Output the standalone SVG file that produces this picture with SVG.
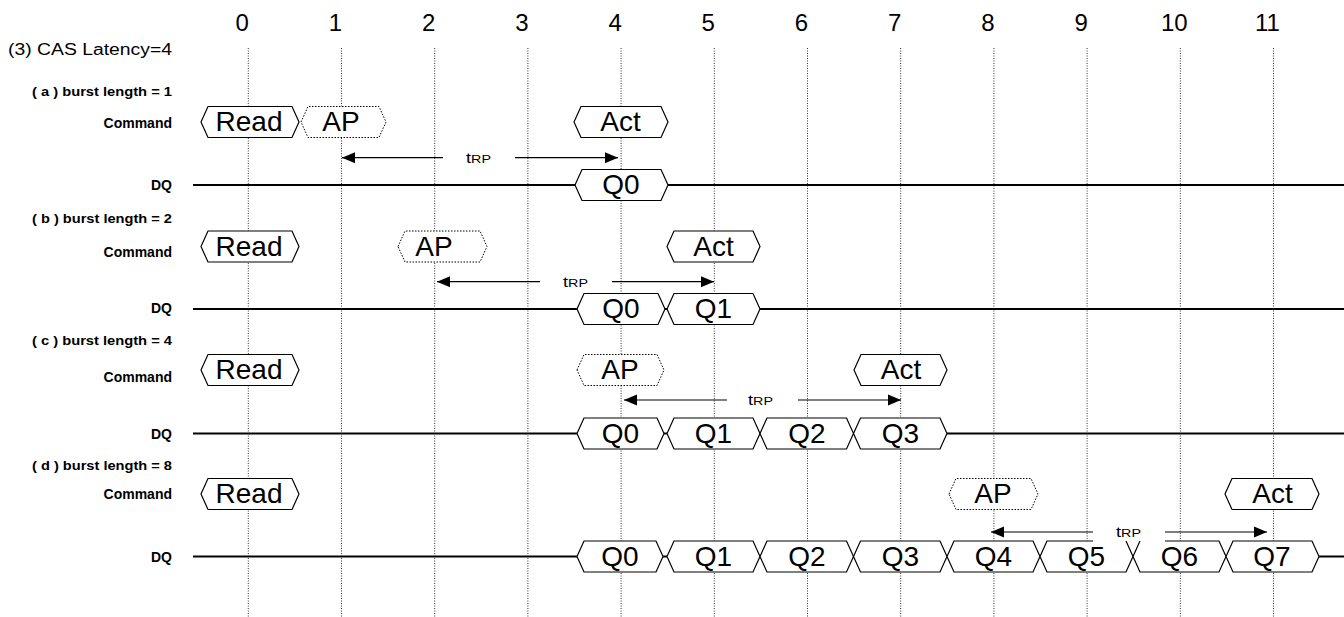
<svg xmlns="http://www.w3.org/2000/svg" width="1344" height="617" viewBox="0 0 1344 617">
<style>
text{font-family:"Liberation Sans",Arial,sans-serif;fill:#000}
.num{font-size:24px;text-anchor:middle}
.sec{font-size:12px;font-weight:bold}
.lbl{font-size:14px;font-weight:bold;text-anchor:end}
.ht{font-size:28px;text-anchor:middle}
.grid{stroke:#333;stroke-width:1;stroke-dasharray:1 1.5;fill:none}
.dq{stroke:#000;stroke-width:1.8;fill:none}
.hex{fill:#fff;stroke:#000;stroke-width:1.2}
.hexd{fill:#fff;stroke:#000;stroke-width:1;stroke-dasharray:1.5 1.5}
.arr{stroke:#000;stroke-width:1.2;fill:none;marker-end:url(#ah)}
.t1{font-size:14px}
.t2{font-size:11px}
</style>
<defs>
<marker id="ah" markerUnits="userSpaceOnUse" markerWidth="14" markerHeight="12" refX="13" refY="6" orient="auto">
<path d="M0,0.5 L13,6 L0,11.5 Z" fill="#000"/>
</marker>
</defs>
<rect width="1344" height="617" fill="#fff"/>

<g id="grid">
<line class="grid" x1="248.3" y1="48" x2="248.3" y2="617"/>
<line class="grid" x1="341.5" y1="48" x2="341.5" y2="617"/>
<line class="grid" x1="434.7" y1="48" x2="434.7" y2="617"/>
<line class="grid" x1="527.9" y1="48" x2="527.9" y2="617"/>
<line class="grid" x1="621.1" y1="48" x2="621.1" y2="617"/>
<line class="grid" x1="714.3" y1="48" x2="714.3" y2="617"/>
<line class="grid" x1="807.5" y1="48" x2="807.5" y2="617"/>
<line class="grid" x1="900.7" y1="48" x2="900.7" y2="617"/>
<line class="grid" x1="993.9" y1="48" x2="993.9" y2="617"/>
<line class="grid" x1="1087.1" y1="48" x2="1087.1" y2="617"/>
<line class="grid" x1="1180.3" y1="48" x2="1180.3" y2="617"/>
<line class="grid" x1="1273.5" y1="48" x2="1273.5" y2="617"/>
</g>

<g id="clock-numbers">
<text class="num" x="242.3" y="30.5">0</text>
<text class="num" x="335.5" y="30.5">1</text>
<text class="num" x="428.7" y="30.5">2</text>
<text class="num" x="521.9" y="30.5">3</text>
<text class="num" x="615.1" y="30.5">4</text>
<text class="num" x="708.3" y="30.5">5</text>
<text class="num" x="801.5" y="30.5">6</text>
<text class="num" x="894.7" y="30.5">7</text>
<text class="num" x="987.9" y="30.5">8</text>
<text class="num" x="1081.1" y="30.5">9</text>
<text class="num" x="1174.3" y="30.5">10</text>
<text class="num" x="1267.5" y="30.5">11</text>
</g>

<g id="labels">
<text x="8" y="55" style="font-size:16px" textLength="164" lengthAdjust="spacingAndGlyphs">(3) CAS Latency=4</text>
<text class="sec" x="32" y="95.5" textLength="140" lengthAdjust="spacingAndGlyphs">( a ) burst length = 1</text>
<text class="lbl" x="172" y="127.5">Command</text>
<text class="lbl" x="172" y="190">DQ</text>
<text class="sec" x="32" y="223" textLength="140" lengthAdjust="spacingAndGlyphs">( b ) burst length = 2</text>
<text class="lbl" x="172" y="257">Command</text>
<text class="lbl" x="172" y="313">DQ</text>
<text class="sec" x="32" y="345" textLength="140" lengthAdjust="spacingAndGlyphs">( c ) burst length = 4</text>
<text class="lbl" x="172" y="381.5">Command</text>
<text class="lbl" x="172" y="438.5">DQ</text>
<text class="sec" x="32" y="470" textLength="140" lengthAdjust="spacingAndGlyphs">( d ) burst length = 8</text>
<text class="lbl" x="172" y="498.5">Command</text>
<text class="lbl" x="172" y="562">DQ</text>
</g>

<g id="dq-lines">
<line class="dq" x1="193" y1="185" x2="1344" y2="185"/>
<line class="dq" x1="193" y1="309" x2="1344" y2="309"/>
<line class="dq" x1="193" y1="433.5" x2="1344" y2="433.5"/>
<line class="dq" x1="193" y1="556.5" x2="1344" y2="556.5"/>
</g>

<!-- (a) -->
<g id="a-read"><polygon class="hex" points="201,122 208,106.5 292,106.5 299,122 292,137.5 208,137.5"/><text class="ht" x="249" y="131">Read</text></g>
<g id="a-ap"><polygon class="hexd" points="301,122 308,106.5 379,106.5 386,122 379,137.5 308,137.5"/><text class="ht" x="341" y="131">AP</text></g>
<g id="a-act"><polygon class="hex" points="574,122 581,106.5 661,106.5 668,122 661,137.5 581,137.5"/><text class="ht" x="620.5" y="131">Act</text></g>
<g id="a-q0"><polygon class="hex" points="575,185 582,169.5 661,169.5 668,185 661,200.5 582,200.5"/><text class="ht" x="621" y="194">Q0</text></g>

<!-- (b) -->
<g id="b-read"><polygon class="hex" points="201,246.5 208,231 292,231 299,246.5 292,262 208,262"/><text class="ht" x="249" y="255.5">Read</text></g>
<g id="b-ap"><polygon class="hexd" points="398,246.5 405,231 480,231 487,246.5 480,262 405,262"/><text class="ht" x="434" y="255.5">AP</text></g>
<g id="b-act"><polygon class="hex" points="667,246.5 674,231 753,231 760,246.5 753,262 674,262"/><text class="ht" x="713.5" y="255.5">Act</text></g>
<g id="b-q0"><polygon class="hex" points="577,309 584,293.5 658,293.5 665,309 658,324.5 584,324.5"/><text class="ht" x="621" y="318">Q0</text></g>
<g id="b-q1"><polygon class="hex" points="667,309 674,293.5 753,293.5 760,309 753,324.5 674,324.5"/><text class="ht" x="713.5" y="318">Q1</text></g>

<!-- (c) -->
<g id="c-read"><polygon class="hex" points="201,370 208,354.5 292,354.5 299,370 292,385.5 208,385.5"/><text class="ht" x="249" y="379">Read</text></g>
<g id="c-ap"><polygon class="hexd" points="577,370 584,354.5 657,354.5 664,370 657,385.5 584,385.5"/><text class="ht" x="620" y="379">AP</text></g>
<g id="c-act"><polygon class="hex" points="854,370 861,354.5 940,354.5 947,370 940,385.5 861,385.5"/><text class="ht" x="901" y="379">Act</text></g>
<g id="c-q0"><polygon class="hex" points="577,433.5 584,418 657,418 664,433.5 657,449 584,449"/><text class="ht" x="620.5" y="442.5">Q0</text></g>
<g id="c-q1"><polygon class="hex" points="667,433.5 674,418 753,418 760,433.5 753,449 674,449"/><text class="ht" x="713.5" y="442.5">Q1</text></g>
<g id="c-q2"><polygon class="hex" points="760,433.5 767,418 846.5,418 853.5,433.5 846.5,449 767,449"/><text class="ht" x="807" y="442.5">Q2</text></g>
<g id="c-q3"><polygon class="hex" points="853.5,433.5 860.5,418 940,418 947,433.5 940,449 860.5,449"/><text class="ht" x="900.5" y="442.5">Q3</text></g>

<!-- (d) -->
<g id="d-read"><polygon class="hex" points="201,494 208,478.5 292,478.5 299,494 292,509.5 208,509.5"/><text class="ht" x="249" y="503">Read</text></g>
<g id="d-ap"><polygon class="hexd" points="949,494 956,478.5 1031,478.5 1038,494 1031,509.5 956,509.5"/><text class="ht" x="993" y="503">AP</text></g>
<g id="d-act"><polygon class="hex" points="1225,494 1232,478.5 1312,478.5 1319,494 1312,509.5 1232,509.5"/><text class="ht" x="1272.5" y="503">Act</text></g>
<g id="d-q0"><polygon class="hex" points="577,556.5 584,541 656,541 663,556.5 656,572 584,572"/><text class="ht" x="620" y="565.5">Q0</text></g>
<g id="d-q1"><polygon class="hex" points="667,556.5 674,541 753,541 760,556.5 753,572 674,572"/><text class="ht" x="713.5" y="565.5">Q1</text></g>
<g id="d-q2"><polygon class="hex" points="760,556.5 767,541 846.5,541 853.5,556.5 846.5,572 767,572"/><text class="ht" x="807" y="565.5">Q2</text></g>
<g id="d-q3"><polygon class="hex" points="853.5,556.5 860.5,541 940,541 947,556.5 940,572 860.5,572"/><text class="ht" x="900.5" y="565.5">Q3</text></g>
<g id="d-q4"><polygon class="hex" points="947,556.5 954,541 1033,541 1040,556.5 1033,572 954,572"/><text class="ht" x="993.5" y="565.5">Q4</text></g>
<g id="d-q5"><polygon points="1040,556.5 1047,541 1126,541 1133,556.5 1126,572 1047,572" fill="#fff"/><path d="M1093,541 H1047 L1040,556.5 L1047,572 H1126 L1133,556.5 L1126,541" fill="none" stroke="#000" stroke-width="1.2"/><text class="ht" x="1086.5" y="565.5">Q5</text></g>
<g id="d-q6"><polygon points="1133,556.5 1140,541 1219,541 1226,556.5 1219,572 1140,572" fill="#fff"/><path d="M1165,541 H1219 L1226,556.5 L1219,572 H1140 L1133,556.5 L1140,541" fill="none" stroke="#000" stroke-width="1.2"/><text class="ht" x="1179.5" y="565.5">Q6</text></g>
<g id="d-q7"><polygon class="hex" points="1226,556.5 1233,541 1312,541 1319,556.5 1312,572 1233,572"/><text class="ht" x="1272" y="565.5">Q7</text></g>

<g id="connectors">
<line class="arr" x1="443" y1="157.7" x2="342" y2="157.7"/>
<line class="arr" x1="515" y1="157.7" x2="618" y2="157.7"/>
<line class="arr" x1="540" y1="281.7" x2="437" y2="281.7"/>
<line class="arr" x1="612" y1="281.7" x2="714" y2="281.7"/>
<line class="arr" x1="727" y1="400" x2="624" y2="400"/>
<line class="arr" x1="798" y1="400" x2="901" y2="400"/>
<line class="arr" x1="1093" y1="532" x2="991" y2="532"/>
<line class="arr" x1="1165" y1="532" x2="1267" y2="532"/>
</g>

<g id="trp-labels">
<text transform="translate(466,163) scale(1.3,1)"><tspan class="t1">t</tspan><tspan class="t2">RP</tspan></text>
<text transform="translate(563,287) scale(1.3,1)"><tspan class="t1">t</tspan><tspan class="t2">RP</tspan></text>
<text transform="translate(748,405.3) scale(1.3,1)"><tspan class="t1">t</tspan><tspan class="t2">RP</tspan></text>
<text transform="translate(1116,537.3) scale(1.3,1)"><tspan class="t1">t</tspan><tspan class="t2">RP</tspan></text>
</g>
</svg>
